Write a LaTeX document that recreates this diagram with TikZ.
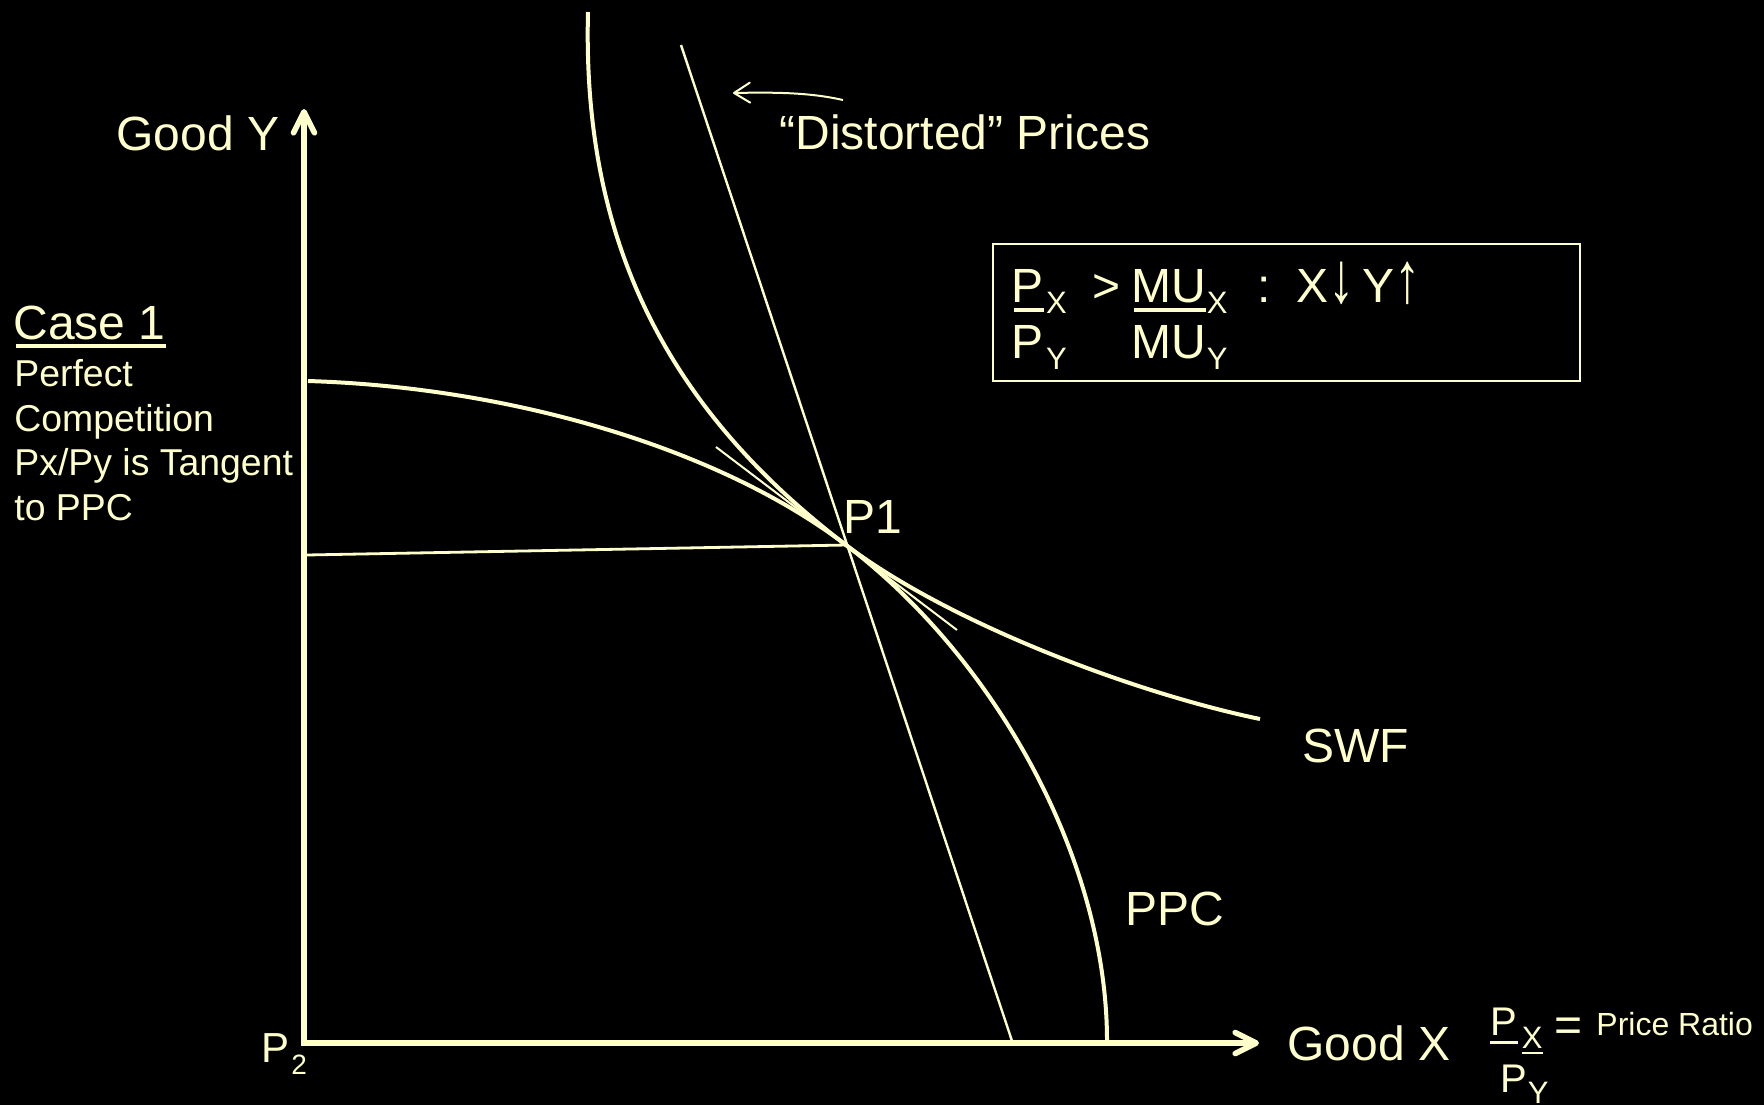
\documentclass[tikz,border=0pt]{standalone}
\usepackage{fontspec}
\usepackage{graphicx}
\setmainfont{Liberation Sans}
\usetikzlibrary{arrows.meta}
\definecolor{ink}{HTML}{FFFFCC}
\newcommand\tallarrow[1]{\scalebox{1.1}[1.5]{#1}}
\begin{document}
\begin{tikzpicture}[x=0.5pt,y=-0.5pt,
  txt/.style={anchor=base west, inner sep=0pt, text=ink, font=\fontsize{24}{28}\selectfont},
  side/.style={txt, font=\fontsize{18.7}{22}\selectfont},
  sub/.style={txt, font=\fontsize{15.5}{15.5}\selectfont},
  mid/.style={txt, font=\fontsize{20}{24}\selectfont},
  tiny/.style={txt, font=\fontsize{16}{19}\selectfont},
  uline/.style={draw=ink, line width=1.7pt},
  axis/.style={draw=ink, line width=2.8pt, line join=miter,
    {Straight Barb[length=10.5pt,width=10.5pt,round]}-{Straight Barb[length=10.5pt,width=10.5pt,round]}},
  curve/.style={draw=ink, line width=2pt},
  thin/.style={draw=ink, line width=1.2pt},
  pointer/.style={draw=ink, line width=1pt, -{Straight Barb[length=8pt,width=10pt,round]}},
  framebox/.style={draw=ink, line width=1pt, inner sep=0pt, minimum width=293.5pt, minimum height=68.5pt}
]
\useasboundingbox (0,0) rectangle (1764,1105);
\fill[black] (0,0) rectangle (1764,1105);

% named points
\coordinate (ytip) at (304,109);
\coordinate (origin) at (304,1043);
\coordinate (xtip) at (1259,1043);
\coordinate (p1) at (846,545);
\coordinate (ppcA) at (308,381);
\coordinate (ppcB) at (1107,1041);
\coordinate (swfA) at (588,12);
\coordinate (swfB) at (1260,719);
\coordinate (distA) at (681,45);
\coordinate (distB) at (1012,1041);
\coordinate (tanA) at (716,447);
\coordinate (tanB) at (957,630);
\coordinate (horA) at (306,555);
\coordinate (arrA) at (843,100);
\coordinate (arrB) at (733,93);

% curves and lines
\draw[curve] (ppcA) .. controls (506,387) and (716,446) .. (p1)
  .. controls (996,659) and (1107,860) .. (ppcB);
\draw[curve] (swfA) .. controls (582,240) and (666,408) .. (p1)
  .. controls (946,621) and (1130,692) .. (swfB);
\draw[thin] (distA) -- (distB);
\draw[draw=ink, line width=1pt] (tanA) -- (tanB);
\draw[draw=ink, line width=1.4pt] (horA) -- (p1);
\draw[pointer] (arrA) .. controls (812,93) and (780,92) .. (arrB);
\draw[axis] (ytip) -- (origin) -- (xtip);

% labels
\node[txt] (dist) at (779,149) {“Distorted” Prices};
\node[txt] (goody) at (116,150) {Good Y};
\node[txt] (case) at (13,339) {Case 1};
\draw[uline, line width=1.65pt] ([xshift=1.5pt,yshift=-3.5pt]case.base west) -- ([yshift=-3.5pt]case.base east);
\node[side] (l1) at (14,386) {Perfect};
\node[side] (l2) at (14,431) {Competition};
\node[side] (l3) at (14,475) {Px/Py is Tangent};
\node[side] (l4) at (14,520) {to PPC};
\node[txt] (p1lab) at (843,533) {P1};
\node[txt] (swf) at (1302,762) {SWF};
\node[txt] (ppc) at (1125,925) {PPC};
\node[txt] (goodx) at (1287,1060) {Good X};
\node[txt, font=\fontsize{21}{25}\selectfont] (p2) at (261,1062) {P};
\node[sub, font=\fontsize{14}{14}\selectfont] (p2s) at (291,1074) {2};

% box
\node[framebox] (box) at (1286.5,312.5) {};
\node[txt] (bP1) at (1011,302) {P};
\node[sub] (bX1) at ([xshift=1pt,yshift=-5.5pt]bP1.base east) {X};
\draw[uline] ([xshift=1.5pt,yshift=-4pt]bP1.base west) -- ([yshift=-4pt]bP1.base east);
\node[txt] (bgt) at (1092,302) {>};
\node[txt] (bMU1) at (1131,302) {MU};
\node[sub] (bX2) at ([yshift=-5.5pt]bMU1.base east) {X};
\draw[uline] ([xshift=1.5pt,yshift=-4pt]bMU1.base west) -- ([yshift=-4pt]bMU1.base east);
\node[txt] (bcolon) at (1257,302) {:};
\node[txt] (bxy) at (1296,302) {X\tallarrow{↓}\,Y\tallarrow{↑}};
\node[txt] (bP2) at (1011,358) {P};
\node[sub] (bY1) at ([xshift=1pt,yshift=-5.5pt]bP2.base east) {Y};
\node[txt] (bMU2) at (1131,358) {MU};
\node[sub] (bY2) at ([yshift=-5.5pt]bMU2.base east) {Y};

% price ratio
\node[mid] (rP1) at (1490,1035) {P};
\node[sub] (rX) at ([xshift=2pt,yshift=-6.5pt]rP1.base east) {X};
\draw[uline, line width=1.5pt] ([yshift=-3.5pt]rP1.base west) -- ([yshift=-3.5pt]rP1.base east);
\draw[uline, line width=1pt] ([yshift=-2.5pt]rX.base west) -- ([yshift=-2.5pt]rX.base east);
\node[txt] (req) at (1554,1041) {=};
\node[tiny] (rtext) at (1596,1035) {Price Ratio};
\node[mid] (rP2) at (1500,1092) {P};
\node[sub] (rY) at ([yshift=-5.5pt]rP2.base east) {Y};
\end{tikzpicture}
\end{document}
